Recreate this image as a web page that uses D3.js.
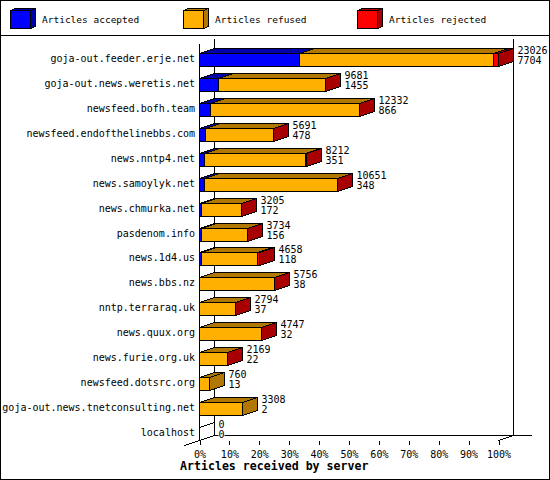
<!DOCTYPE html>
<html>
<head>
<meta charset="utf-8">
<script src="https://cdn.jsdelivr.net/npm/d3@7"></script>
<style>
  body { margin: 0; background: #fff; }
  svg text { font-family: "DejaVu Sans Mono", "Liberation Mono", monospace; fill: #000; }
</style>
</head>
<body>
<script>
// articles received by server, one entry per peer
const hosts = [
  "goja-out.feeder.erje.net", "goja-out.news.weretis.net", "newsfeed.bofh.team",
  "newsfeed.endofthelinebbs.com", "news.nntp4.net", "news.samoylyk.net",
  "news.chmurka.net", "pasdenom.info", "news.1d4.us", "news.bbs.nz",
  "nntp.terraraq.uk", "news.quux.org", "news.furie.org.uk", "newsfeed.dotsrc.org",
  "goja-out.news.tnetconsulting.net", "localhost"
];
const accepted = [7704, 1455, 866, 478, 351, 348, 172, 156, 118, 38, 37, 32, 22, 13, 2, 0];
const refused  = [14922, 8211, 11446, 5203, 7781, 10293, 3028, 3573, 4320, 5708, 2752, 4710, 2142, 747, 3306, 0];
const rejected = [400, 15, 20, 10, 80, 10, 5, 5, 220, 10, 5, 5, 5, 0, 0, 0];
const seriesNames = ["Articles accepted", "Articles refused", "Articles rejected"];
const pctTicks = [0, 10, 20, 30, 40, 50, 60, 70, 80, 90, 100];

const colors = ["#0000ff", "#ffb000", "#ff0000"];
const shades = ["#0000a8", "#b07800", "#a80000"];

const width = 550, height = 480;
const dx = 15, dy = 5;           // 3d depth
const p = v => Math.round(v) + 0.5;

const svg = d3.select("body").append("svg")
    .attr("width", width)
    .attr("height", height);

svg.append("rect")
    .attr("x", 0.5).attr("y", 0.5)
    .attr("width", width - 1).attr("height", height - 1)
    .attr("fill", "#fff").attr("stroke", "#000");

// legend
const legendX = [10, 183, 357];
const legend = svg.append("g").attr("shape-rendering", "crispEdges");
seriesNames.forEach((name, k) => {
    const lx = legendX[k];
    const g = legend.append("g").attr("stroke", "#000");
    g.append("polygon")
        .attr("points", [[lx, 10], [lx + 5, 8], [lx + 25, 8], [lx + 20, 10]].map(q => q.map(p)).join(" "))
        .attr("fill", shades[k]);
    g.append("polygon")
        .attr("points", [[lx + 20, 10], [lx + 25, 8], [lx + 25, 26], [lx + 20, 28]].map(q => q.map(p)).join(" "))
        .attr("fill", shades[k]);
    g.append("rect")
        .attr("x", p(lx)).attr("y", p(10))
        .attr("width", 20).attr("height", 18)
        .attr("fill", colors[k]);
    legend.append("text")
        .attr("x", lx + 32).attr("y", 23)
        .style("font-size", "9.5px")
        .text(name);
});
svg.append("line")
    .attr("x1", 0).attr("x2", width)
    .attr("y1", 35.5).attr("y2", 35.5)
    .attr("stroke", "#000");

// scales
const rows = hosts.map((h, i) => {
    const vals = [accepted[i], refused[i], rejected[i]];
    let c = 0;
    const segs = vals.map((v, k) => {
        const s = {k, v, c0: c, c1: c + v};
        c += v;
        return s;
    });
    return {h, i, segs, total: c};
});

const x = d3.scaleLinear()
    .domain([0, d3.max(rows, d => d.total)])
    .range([199, 498]);
const pct = d3.scaleLinear().domain([0, 100]).range([199, 498]);
const y = d3.scaleBand()
    .domain(hosts)
    .range([53, 440])
    .paddingInner(0.48)
    .paddingOuter(0);

const x0 = p(x(0)), x1 = p(x.range()[1]);
const yBase = p(440);

// frame: back walls, floor, front axis
const frame = svg.append("g").attr("stroke", "#000").attr("fill", "none").attr("shape-rendering", "crispEdges");
frame.append("line").attr("x1", x0 + dx).attr("x2", x0 + dx).attr("y1", 39).attr("y2", yBase - dy);
frame.append("line").attr("x1", x1 + dx).attr("x2", x1 + dx).attr("y1", 39).attr("y2", yBase - dy);
frame.append("line").attr("x1", x0 + dx).attr("x2", x1 + dx + 18).attr("y1", yBase - dy).attr("y2", yBase - dy);
frame.append("line").attr("x1", x0).attr("x2", x0).attr("y1", 44).attr("y2", yBase);
frame.append("line").attr("x1", x0 + dx).attr("y1", yBase - dy).attr("x2", x0 - dx).attr("y2", yBase + dy);
frame.append("line").attr("x1", x1).attr("y1", yBase).attr("x2", x1 + dx).attr("y2", yBase - dy);

// x axis
const xAxis = g => g
    .attr("transform", `translate(0.5,${yBase})`)
    .call(d3.axisBottom(pct).tickValues(pctTicks).tickFormat(d => d + "%").tickSize(4).tickPadding(6))
    .call(g => g.select(".domain").remove())
    .call(g => g.selectAll(".tick line").attr("stroke", "#000").attr("shape-rendering", "crispEdges"))
    .call(g => g.selectAll("text").attr("fill", "#000").style("font-size", "10px")
        .style("font-family", "'DejaVu Sans Mono', monospace"));
svg.append("g").call(xAxis);

svg.append("text")
    .attr("x", 180).attr("y", 470)
    .style("font-size", "11.6px")
    .style("font-weight", "bold")
    .text("Articles received by server");

// host labels
svg.append("g")
    .selectAll("text")
    .data(rows)
    .join("text")
    .attr("x", 195)
    .attr("y", d => y(d.h) + y.bandwidth() / 2 + 2.5)
    .attr("text-anchor", "end")
    .style("font-size", "10px")
    .text(d => d.h);

// bars
const bars = svg.append("g")
    .attr("stroke", "#000")
    .attr("shape-rendering", "crispEdges")
    .selectAll(".bar")
    .data(rows)
    .join("g")
    .attr("class", "bar");

bars.each(function (d) {
    const g = d3.select(this);
    const top = p(y(d.h)), bot = p(y(d.h) + y.bandwidth());
    const segs = d.segs.filter(s => s.v > 0);

    g.selectAll(".top")
        .data(segs)
        .join("polygon")
        .attr("class", "top")
        .attr("fill", s => shades[s.k])
        .attr("points", s => {
            const a = p(x(s.c0)), b = p(x(s.c1));
            return [[a, top], [a + dx, top - dy], [b + dx, top - dy], [b, top]].join(" ");
        });

    g.selectAll(".front")
        .data(segs)
        .join("rect")
        .attr("class", "front")
        .attr("x", s => p(x(s.c0)))
        .attr("y", top)
        .attr("width", s => p(x(s.c1)) - p(x(s.c0)))
        .attr("height", bot - top)
        .attr("fill", s => colors[s.k]);

    const last = segs[segs.length - 1];
    const e = p(x(d.total));
    g.append("polygon")
        .attr("fill", last ? shades[last.k] : "#fff")
        .attr("points", [[e, top], [e + dx, top - dy], [e + dx, bot - dy], [e, bot]].join(" "));
    if (!last) {
        g.append("line").attr("x1", e).attr("x2", e + dx).attr("y1", top).attr("y2", top - dy);
    }
});

// value labels: total on top, accepted below
const labels = svg.append("g")
    .selectAll("g")
    .data(rows)
    .join("g")
    .attr("transform", d => `translate(${p(x(d.total)) + dx + 4},${Math.round(y(d.h))})`);

labels.each(function (d) {
    const g = d3.select(this);
    [[d.total, 1], [accepted[d.i], 11]].forEach(([v, yy]) => {
        const bg = g.append("rect").attr("fill", "#fff");
        const t = g.append("text")
            .attr("x", 0).attr("y", yy)
            .style("font-size", "10px")
            .text(v);
        const bb = t.node().getBBox();
        bg.attr("x", bb.x).attr("y", bb.y + 1).attr("width", bb.width).attr("height", bb.height - 2);
    });
});
</script>
</body>
</html>
